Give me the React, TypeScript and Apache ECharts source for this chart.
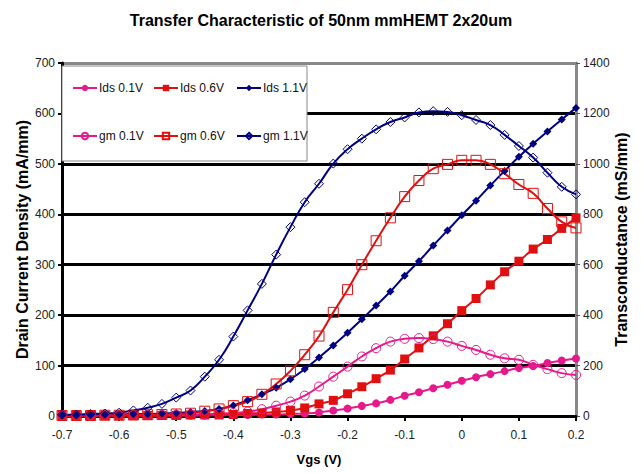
import React, { useEffect, useRef } from "react";
import * as echarts from "echarts";

const vgs = [-0.7, -0.675, -0.65, -0.625, -0.6, -0.575, -0.55, -0.525, -0.5, -0.475, -0.45, -0.425, -0.4, -0.375, -0.35, -0.325, -0.3, -0.275, -0.25, -0.225, -0.2, -0.175, -0.15, -0.125, -0.1, -0.075, -0.05, -0.025, 0, 0.025, 0.05, 0.075, 0.1, 0.125, 0.15, 0.175, 0.2];

const ids01 = [1, 1, 1, 1, 1, 1, 1, 1, 1, 1, 1, 2, 2, 2, 3, 3, 4, 5, 7, 11, 15, 20, 25, 32, 40, 47, 55, 62, 70, 77, 83, 89, 95, 99, 105, 110, 114];
const ids06 = [1, 1, 1, 1, 1, 1, 1, 1, 1, 2, 2, 2, 3, 5, 6, 8, 11, 16, 24, 31, 44, 58, 74, 91, 113, 135, 159, 183, 209, 233, 260, 286, 307, 331, 350, 372, 393];
const ids11 = [2, 2, 3, 3, 3, 4, 4, 5, 6, 8, 10, 14, 21, 31, 43, 56, 73, 93, 116, 140, 165, 192, 219, 247, 278, 307, 338, 368, 398, 427, 457, 486, 514, 540, 564, 588, 611];
const gm01 = [2, 2, 3, 3, 3, 4, 4, 5, 5, 6, 7, 9, 12, 17, 27, 41, 57, 81, 117, 156, 196, 236, 269, 295, 306, 309, 305, 295, 278, 262, 243, 229, 223, 203, 186, 170, 163];
const gm06 = [2, 2, 2, 3, 3, 4, 5, 6, 8, 11, 19, 28, 41, 57, 86, 127, 179, 243, 317, 411, 501, 600, 695, 786, 870, 934, 981, 998, 1014, 1014, 998, 961, 918, 883, 823, 770, 746];
const gm11 = [5, 6, 8, 10, 13, 22, 33, 48, 73, 101, 156, 223, 315, 419, 524, 640, 749, 848, 921, 1001, 1058, 1100, 1137, 1166, 1184, 1204, 1209, 1206, 1193, 1174, 1154, 1115, 1071, 1025, 965, 909, 879];

const seriesNames = ["Ids 0.1V", "Ids 0.6V", "Ids 1.1V", "gm 0.1V", "gm 0.6V", "gm 1.1V"];

const MAGENTA = "#E6198C";
const RED = "#E01010";
const NAVY = "#000080";

const FONT = "Liberation Sans, Arial, sans-serif";

function pairs(vals: number[]) {
  return vgs.map((x, i) => [x, vals[i]]);
}

export default function App() {
  const ref = useRef<HTMLDivElement>(null);
  useEffect(() => {
    if (!ref.current) return;
    document.body.style.margin = "0";
    const chart = echarts.init(ref.current, null, { renderer: "svg" });

    const filled = (name: string, vals: number[], color: string, symbol: string, size: number) => ({
      name,
      type: "line",
      yAxisIndex: 0,
      smooth: true,
      data: pairs(vals),
      symbol,
      symbolSize: size,
      lineStyle: { color, width: 2 },
      itemStyle: { color, borderColor: color, borderWidth: 0 },
      z: 3,
    });
    const open = (name: string, vals: number[], color: string, symbol: string, size: number) => ({
      name,
      type: "line",
      yAxisIndex: 1,
      smooth: true,
      data: pairs(vals),
      symbol,
      symbolSize: size,
      lineStyle: { color, width: 2 },
      itemStyle: { color: "rgba(255,255,255,0)", borderColor: color, borderWidth: 1 },
      z: 3,
    });

    const legendPos = [
      [72, 82], [153, 82], [236, 82],
      [72, 130], [153, 130], [236, 130],
    ];

    chart.setOption({
      animation: false,
      backgroundColor: "#fff",
      title: {
        text: "Transfer Characteristic of 50nm mmHEMT 2x20um",
        left: "center",
        top: 7,
        textStyle: { fontFamily: FONT, fontSize: 16, fontWeight: "bold", color: "#000" },
      },
      grid: { left: 62, right: 66, top: 63, bottom: 57, outerBoundsMode: "none" },
      legend: seriesNames.map((n, i) => ({
        data: [n],
        left: legendPos[i][0],
        top: legendPos[i][1],
        itemWidth: 24,
        itemHeight: 8,
        padding: 0,
        z: 20,
        textStyle: { fontFamily: FONT, fontSize: 12, color: "#111", padding: [0, 0, 0, -3] },
      })),
      graphic: [
        {
          type: "rect",
          shape: { x: 62, y: 66, width: 245, height: 95 },
          style: { fill: "#fff", stroke: "#888", lineWidth: 1 },
          z: 10,
        },
      ],
      xAxis: {
        type: "value",
        min: -0.7,
        max: 0.2,
        interval: 0.1,
        name: "Vgs (V)",
        nameLocation: "middle",
        nameGap: 37,
        nameMoveOverlap: false,
        nameTextStyle: { fontFamily: FONT, fontSize: 13, fontWeight: "bold", color: "#000" },
        axisLine: { onZero: false, lineStyle: { color: "#000", width: 3 } },
        axisTick: { show: true, length: 5, lineStyle: { color: "#000", width: 2 } },
        axisLabel: {
          fontFamily: FONT,
          fontSize: 12,
          color: "#222",
          margin: 13,
          formatter: (v: number) => (Math.abs(v) < 1e-9 ? "0" : v.toFixed(1)),
        },
        splitLine: { show: false },
      },
      yAxis: [
        {
          type: "value",
          min: 0,
          max: 700,
          interval: 100,
          name: "Drain Current Density (mA/mm)",
          nameLocation: "middle",
          nameGap: 32,
          nameMoveOverlap: false,
          nameTextStyle: { fontFamily: FONT, fontSize: 16, fontWeight: "bold", color: "#000" },
          axisLine: { show: true, onZero: false, lineStyle: { color: "#000", width: 3 } },
          axisTick: { show: true, length: 4, lineStyle: { color: "#000", width: 2 } },
          axisLabel: { fontFamily: FONT, fontSize: 12, color: "#222", margin: 7, formatter: (v: number) => String(v) },
          splitLine: {
            show: true,
            lineStyle: { color: ["#000", "#000", "#000", "#000", "#000", "#000", "#000", "#888"], width: 3 },
          },
        },
        {
          type: "value",
          min: 0,
          max: 1400,
          interval: 200,
          name: "Transconductance (mS/mm)",
          nameLocation: "middle",
          nameGap: 37,
          nameMoveOverlap: false,
          nameTextStyle: { fontFamily: FONT, fontSize: 16, fontWeight: "bold", color: "#000" },
          axisLine: { show: true, onZero: false, lineStyle: { color: "#888", width: 3 } },
          axisTick: { show: true, length: 4, lineStyle: { color: "#555", width: 1 } },
          axisLabel: { fontFamily: FONT, fontSize: 12, color: "#222", margin: 7, formatter: (v: number) => String(v) },
          splitLine: { show: false },
        },
      ],
      series: [
        filled("Ids 0.1V", ids01, MAGENTA, "circle", 8),
        filled("Ids 0.6V", ids06, RED, "rect", 9),
        filled("Ids 1.1V", ids11, NAVY, "diamond", 8),
        open("gm 0.1V", gm01, MAGENTA, "circle", 9),
        open("gm 0.6V", gm06, RED, "rect", 10),
        open("gm 1.1V", gm11, NAVY, "diamond", 9),
      ],
    });
    return () => chart.dispose();
  }, []);
  return <div ref={ref} style={{ width: 642, height: 473 }} />;
}
